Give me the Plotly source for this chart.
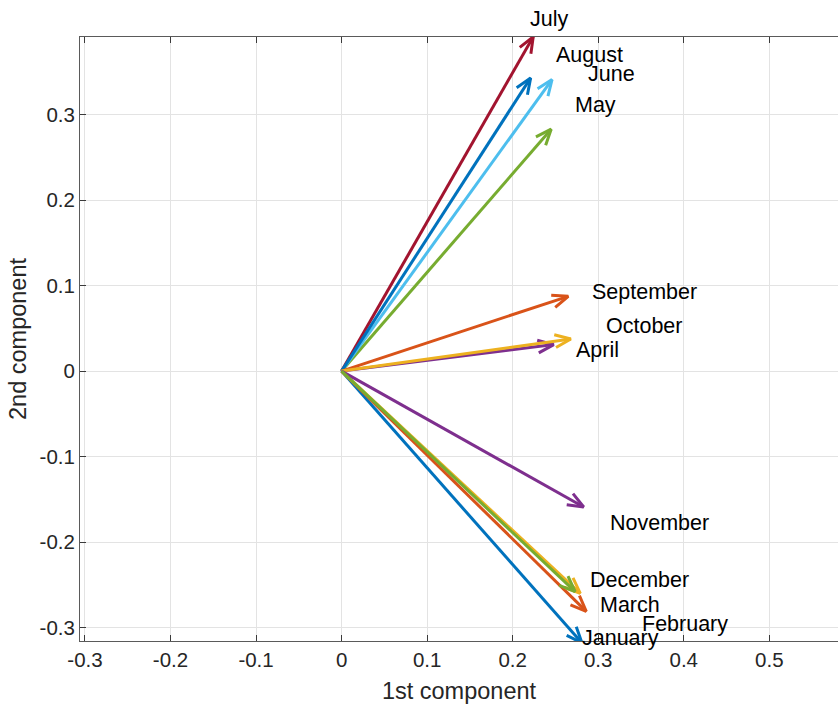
import numpy as np
import plotly.graph_objects as go

months = ["January", "February", "March", "April", "May", "June", "July",
          "August", "September", "October", "November", "December"]
# loadings (arrow tips): 1st and 2nd component
comp1 = [0.281, 0.286, 0.279, 0.248, 0.245, 0.246, 0.224, 0.221, 0.265, 0.268, 0.283, 0.273]
comp2 = [-0.318, -0.281, -0.260, 0.031, 0.283, 0.341, 0.391, 0.343, 0.0875, 0.0376, -0.159, -0.258]
# label anchor positions (left/middle of text)
label_x = [0.279, 0.349, 0.300, 0.272, 0.270, 0.286, 0.218, 0.2485, 0.290, 0.307, 0.3116, 0.2886]
label_y = [-0.312, -0.296, -0.274, 0.025, 0.311, 0.348, 0.4115, 0.370, 0.093, 0.053, -0.178, -0.2447]

xtick_vals = [-0.3, -0.2, -0.1, 0, 0.1, 0.2, 0.3, 0.4, 0.5]
xtick_text = ["-0.3", "-0.2", "-0.1", "0", "0.1", "0.2", "0.3", "0.4", "0.5"]
ytick_vals = [-0.3, -0.2, -0.1, 0, 0.1, 0.2, 0.3]
ytick_text = ["-0.3", "-0.2", "-0.1", "0", "0.1", "0.2", "0.3"]

palette = ["#0072BD", "#D95319", "#EDB120", "#7E2F8E", "#77AC30", "#4DBEEE", "#A2142F"]

FONT = "Liberation Sans, Arial, Helvetica, sans-serif"
X_RANGE = [-0.3058, 0.5803]
Y_RANGE = [-0.3157, 0.3908]
PLOT_H = 707 - 37 - 66
PX_PER_Y = PLOT_H / (Y_RANGE[1] - Y_RANGE[0])

fig = go.Figure()

head_len = 0.02
head_ang = np.deg2rad(22)
for i, m in enumerate(months):
    u, v = comp1[i], comp2[i]
    L = np.hypot(u, v)
    dx, dy = u / L, v / L
    nx, ny = -dy, dx
    c, s = np.cos(head_ang), np.sin(head_ang)
    b1 = (u - head_len * (dx * c + nx * s), v - head_len * (dy * c + ny * s))
    b2 = (u - head_len * (dx * c - nx * s), v - head_len * (dy * c - ny * s))
    xs = [0, u, None, b1[0], u, b2[0]]
    ys = [0, v, None, b1[1], v, b2[1]]
    fig.add_trace(go.Scatter(x=xs, y=ys, mode="lines",
                             line=dict(color=palette[i % 7], width=3),
                             showlegend=False, hoverinfo="skip", cliponaxis=False))

for i, m in enumerate(months):
    # labels lying above the axes box are anchored at its top edge and shifted up
    ya = min(label_y[i], Y_RANGE[1] - 0.0005)
    shift = (label_y[i] - ya) * PX_PER_Y
    fig.add_annotation(x=label_x[i], y=ya, xref="x", yref="y", text=m,
                       showarrow=False, xanchor="left", yanchor="middle", yshift=shift,
                       font=dict(family=FONT, size=21.5, color="#000000"))

axis_common = dict(showline=True, linecolor="#5a5a5a", linewidth=1,
                   showgrid=True, gridcolor="#e3e3e3", gridwidth=1,
                   zeroline=False, ticks="inside", ticklen=6, tickwidth=1,
                   tickcolor="#3a3a3a",
                   tickfont=dict(family=FONT, size=20.5, color="#262626"))

fig.update_xaxes(range=X_RANGE, tickvals=xtick_vals, ticktext=xtick_text,
                 mirror="ticks", title=dict(text="1st component", standoff=12,
                 font=dict(family=FONT, size=23.5, color="#262626")), **axis_common)
fig.update_yaxes(range=Y_RANGE, tickvals=ytick_vals, ticktext=ytick_text,
                 mirror=False, title=dict(text="2nd component", standoff=6,
                 font=dict(family=FONT, size=23.5, color="#262626")), **axis_common)

fig.update_layout(width=838, height=707, margin=dict(l=80, r=0, t=37, b=66),
                  plot_bgcolor="white", paper_bgcolor="white")

fig.write_html("out.html")
